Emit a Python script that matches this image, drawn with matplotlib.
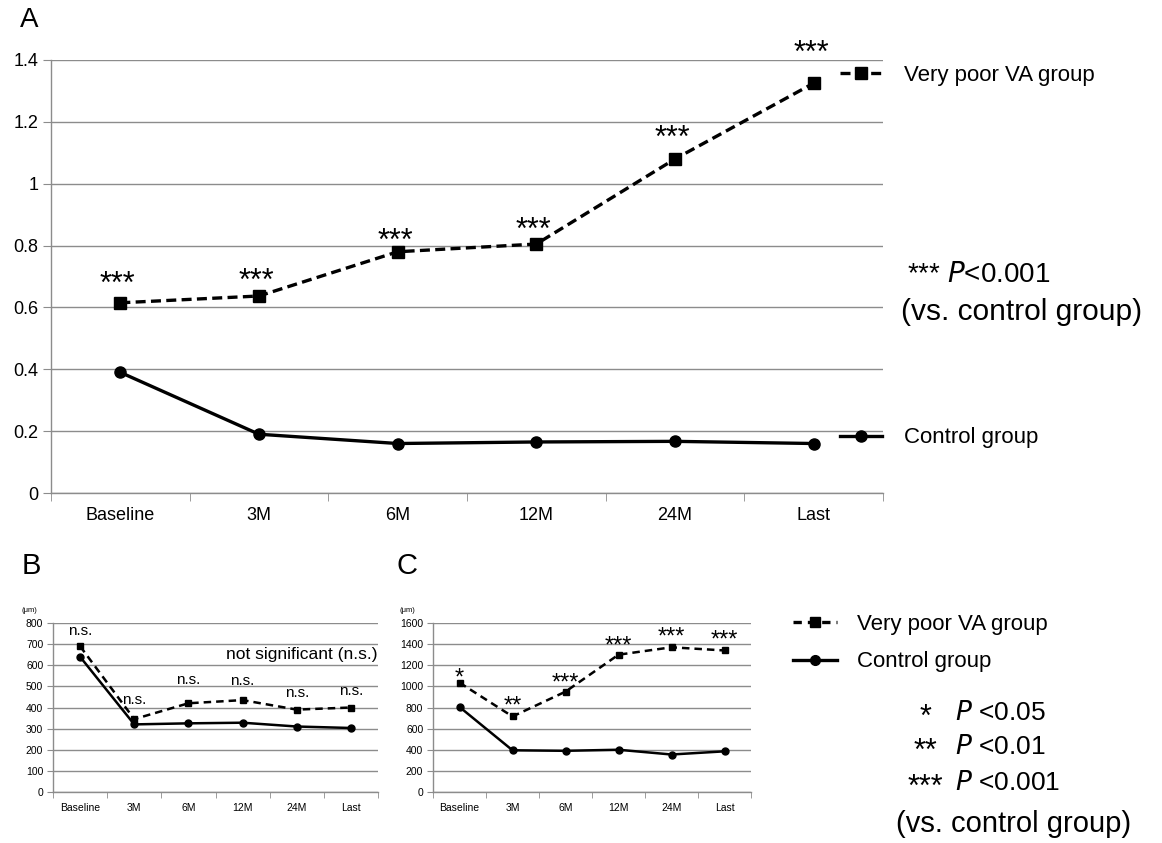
import matplotlib.pyplot as plt
from matplotlib.lines import Line2D

plt.rcParams['font.family'] = ['Liberation Sans', 'DejaVu Sans']

periods = ["Baseline", "3M", "6M", "12M", "24M", "Last"]

# A: visual acuity (logMAR)
va_poor = [0.615, 0.637, 0.780, 0.805, 1.080, 1.325]
va_ctrl = [0.390, 0.190, 0.160, 0.165, 0.167, 0.160]
va_sig = ["***", "***", "***", "***", "***", "***"]

# B: central retinal thickness (um)
crt_poor = [690, 345, 420, 435, 390, 400]
crt_ctrl = [640, 320, 325, 328, 310, 303]
crt_sig = ["n.s.", "n.s.", "n.s.", "n.s.", "n.s.", "n.s."]

# C: central choroidal thickness (um)
cct_poor = [1035, 715, 950, 1300, 1370, 1340]
cct_ctrl = [805, 395, 390, 400, 355, 385]
cct_sig = ["*", "**", "***", "***", "***", "***"]

# how far above each point the significance marks sit (points)
va_lift = [7, 4.5, 1.5, 3.5, 8.5, 15]
crt_lift = [8, 11, 14, 11, 9, 9]
cct_lift = [-1.5, 3, 1.5, 1.5, 3, 3]

W, H = 1162, 843
fig = plt.figure(figsize=(W / 100, H / 100), dpi=100)
GRID = "#8c8c8c"


def box(x0, y_top, x1, y_bot):
    return [x0 / W, 1 - y_bot / H, (x1 - x0) / W, (y_bot - y_top) / H]


def style_axes(ax, ymax, ystep, fs, tick_len):
    x = range(len(periods))
    ax.set_xlim(-0.5, len(periods) - 0.5)
    ax.set_ylim(0, ymax)
    ax.set_xticks(list(x))
    ax.set_xticklabels(periods, fontsize=fs)
    ax.set_xticks([i - 0.5 for i in range(len(periods) + 1)], minor=True)
    ax.tick_params(axis="x", which="major", length=0, pad=tick_len + 4)
    ax.tick_params(axis="x", which="minor", length=tick_len, color=GRID, direction="out")
    ticks = [i * ystep for i in range(int(round(ymax / ystep)) + 1)]
    ax.set_yticks(ticks)
    ax.tick_params(axis="y", length=tick_len, color=GRID, labelsize=fs, pad=3)
    ax.yaxis.grid(True, color=GRID, lw=1)
    ax.set_axisbelow(True)
    for s in ["top", "right"]:
        ax.spines[s].set_visible(False)
    for s in ["left", "bottom"]:
        ax.spines[s].set_color(GRID)
        ax.spines[s].set_linewidth(1)


def draw_series(ax, poor, ctrl, lw, ms, dash):
    x = list(range(len(periods)))
    ax.plot(x, poor, color="black", lw=lw, ls=(0, dash), marker="s", ms=ms, zorder=3)
    ax.plot(x, ctrl, color="black", lw=lw, ls="-", marker="o", ms=ms, zorder=3)


def mark_sig(ax, vals, labels, lifts, fs, dx=0):
    for i, (v, s, d) in enumerate(zip(vals, labels, lifts)):
        ax.annotate(s, (i, v), xytext=(dx, d), textcoords="offset points",
                    ha="center", va="baseline", fontsize=fs)


# ---- panel A ----
axA = fig.add_axes(box(51, 60, 883, 493))
style_axes(axA, 1.4, 0.2, 13, 6)
axA.set_yticklabels(["0", "0.2", "0.4", "0.6", "0.8", "1", "1.2", "1.4"])
draw_series(axA, va_poor, va_ctrl, 2.4, 8, (3, 1.6))
mark_sig(axA, va_poor, va_sig, va_lift, 22, dx=-2)

hA_poor = Line2D([], [], color="black", lw=2.4, ls=(0, (3, 1.6)), marker="s", ms=8)
hA_ctrl = Line2D([], [], color="black", lw=2.4, ls="-", marker="o", ms=8)
legA1 = axA.legend(handles=[hA_poor], labels=["Very poor VA group"], loc="center left",
                   bbox_to_anchor=(820 / W, 1 - 75 / H), bbox_transform=fig.transFigure,
                   frameon=False, fontsize=16, handlelength=1.9, handletextpad=1.0)
axA.add_artist(legA1)
axA.legend(handles=[hA_ctrl], labels=["Control group"], loc="center left",
           bbox_to_anchor=(820 / W, 1 - 438 / H), bbox_transform=fig.transFigure,
           frameon=False, fontsize=16, handlelength=1.9, handletextpad=1.0)

fig.text(907 / W, 1 - 275 / H, "*** $\\it{P}$<0.001", fontsize=20, va="center", ha="left")
fig.text(901 / W, 1 - 312 / H, "(vs. control group)", fontsize=21.5, va="center", ha="left")
fig.text(20 / W, 1 - 20 / H, "A", fontsize=20, va="center", ha="left")

# ---- panel B ----
axB = fig.add_axes(box(53, 623, 378, 792))
style_axes(axB, 800, 100, 7.5, 4)
draw_series(axB, crt_poor, crt_ctrl, 1.8, 5, (3, 2))
mark_sig(axB, crt_poor, crt_sig, crt_lift, 11)
axB.text(5.5, 650, "not significant (n.s.)", fontsize=12.5, ha="right", va="center")
fig.text(22 / W, 1 - 610 / H, "(\u03bcm)", fontsize=5.5, va="center", ha="left")
fig.text(22 / W, 1 - 566 / H, "B", fontsize=21, va="center", ha="left")

# ---- panel C ----
axC = fig.add_axes(box(433, 623, 751, 792))
style_axes(axC, 1600, 200, 7.5, 4)
draw_series(axC, cct_poor, cct_ctrl, 1.8, 5, (3, 2))
mark_sig(axC, cct_poor, cct_sig, cct_lift, 17)
fig.text(400 / W, 1 - 610 / H, "(\u03bcm)", fontsize=5.5, va="center", ha="left")
fig.text(397 / W, 1 - 566 / H, "C", fontsize=21, va="center", ha="left")

# ---- shared legend for B and C ----
hB_poor = Line2D([], [], color="black", lw=2.4, ls=(0, (2.5, 1.8)), marker="s", ms=7)
hB_ctrl = Line2D([], [], color="black", lw=2.4, ls="-", marker="o", ms=7)
fig.legend(handles=[hB_poor, hB_ctrl], labels=["Very poor VA group", "Control group"],
           loc="center left", bbox_to_anchor=(773 / W, 1 - 643 / H), frameon=False,
           fontsize=16, handlelength=2.0, handletextpad=0.9, labelspacing=0.75)

for y, stars, p in [(713, "*", "<0.05"), (747, "**", "<0.01"), (783, "***", "<0.001")]:
    fig.text(925 / W, 1 - (y + 5) / H, stars, fontsize=22, ha="center", va="center")
    fig.text(955 / W, 1 - y / H, "$\\it{P}$ " + p, fontsize=19, ha="left", va="center")
fig.text(896 / W, 1 - 824 / H, "(vs. control group)", fontsize=21, ha="left", va="center")

fig.savefig("out.png", dpi=100)
